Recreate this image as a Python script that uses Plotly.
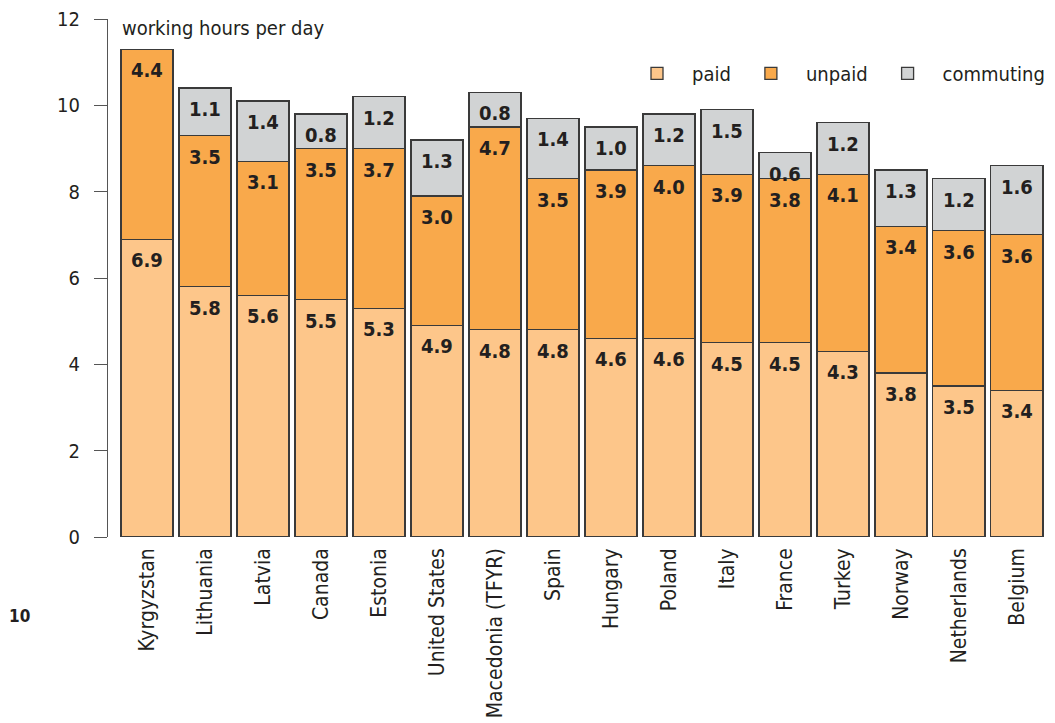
import plotly.graph_objects as go

countries = ["Kyrgyzstan", "Lithuania", "Latvia", "Canada", "Estonia", "United States",
             "Macedonia (TFYR)", "Spain", "Hungary", "Poland", "Italy", "France",
             "Turkey", "Norway", "Netherlands", "Belgium"]
paid = [6.9, 5.8, 5.6, 5.5, 5.3, 4.9, 4.8, 4.8, 4.6, 4.6, 4.5, 4.5, 4.3, 3.8, 3.5, 3.4]
unpaid = [4.4, 3.5, 3.1, 3.5, 3.7, 3.0, 4.7, 3.5, 3.9, 4.0, 3.9, 3.8, 4.1, 3.4, 3.6, 3.6]
commuting = [None, 1.1, 1.4, 0.8, 1.2, 1.3, 0.8, 1.4, 1.0, 1.2, 1.5, 0.6, 1.2, 1.3, 1.2, 1.6]
y_ticks = [0, 2, 4, 6, 8, 10, 12]

FONT = "Liberation Sans Narrow, DejaVu Sans Condensed, Arial Narrow, sans-serif"
TXT = "#231f20"
OUTLINE = "#3a3a3a"

series = [("paid", paid, "#fdc68a"), ("unpaid", unpaid, "#f9a94b"), ("commuting", commuting, "#d1d3d4")]

fig = go.Figure()
for name, vals, col in series:
    fig.add_trace(go.Bar(
        x=countries, y=vals, name=name,
        marker=dict(color=col, line=dict(color=OUTLINE, width=1.3)),
        hoverinfo="x+y+name",
    ))

# value labels near the top of each segment
base = [0.0] * len(countries)
for name, vals, col in series:
    for i, v in enumerate(vals):
        if v is None:
            continue
        top = base[i] + v
        fig.add_annotation(x=countries[i], y=top, text=f"<b>{v:.1f}</b>",
                           showarrow=False, yanchor="middle", yshift=-21,
                           font=dict(family=FONT, size=20, color=TXT))
        base[i] = top

fig.add_annotation(xref="paper", yref="paper", x=0.013, y=1.0, xanchor="left", yanchor="middle",
                   yshift=-9, text="working hours per day", showarrow=False,
                   font=dict(family=FONT, size=20, color=TXT))
fig.add_annotation(xref="paper", yref="paper", x=-0.094, y=-0.153, xanchor="center", yanchor="middle",
                   text="<b>10</b>", showarrow=False,
                   font=dict(family=FONT, size=17, color=TXT))

fig.update_layout(
    width=1055, height=723,
    margin=dict(l=108, r=5, t=19, b=186),
    barmode="stack", bargap=0.1,
    plot_bgcolor="white", paper_bgcolor="white",
    font=dict(family=FONT, size=19, color=TXT),
    showlegend=True,
    legend=dict(orientation="h", x=1.0, xanchor="right", y=0.895, yanchor="middle",
                font=dict(family=FONT, size=20, color=TXT), traceorder="normal",
                itemwidth=60, bgcolor="rgba(0,0,0,0)"),
    xaxis=dict(range=[-0.672, 15.57], showline=False, ticks="", tickangle=-90,
               ticklabelstandoff=6,
               tickfont=dict(family=FONT, size=21, color=TXT), showgrid=False),
    yaxis=dict(range=[0, 12], tickvals=y_ticks, showline=True, linecolor="#555555", linewidth=1.2,
               ticks="outside", ticklen=13, tickcolor="#555555", tickwidth=1.2,
               ticklabelstandoff=10, showgrid=False, zeroline=False,
               tickfont=dict(family=FONT, size=20, color=TXT)),
)

fig.write_html("out.html", config={"displayModeBar": False},
               post_script="document.body.style.margin='0';document.body.style.overflow='hidden';")
